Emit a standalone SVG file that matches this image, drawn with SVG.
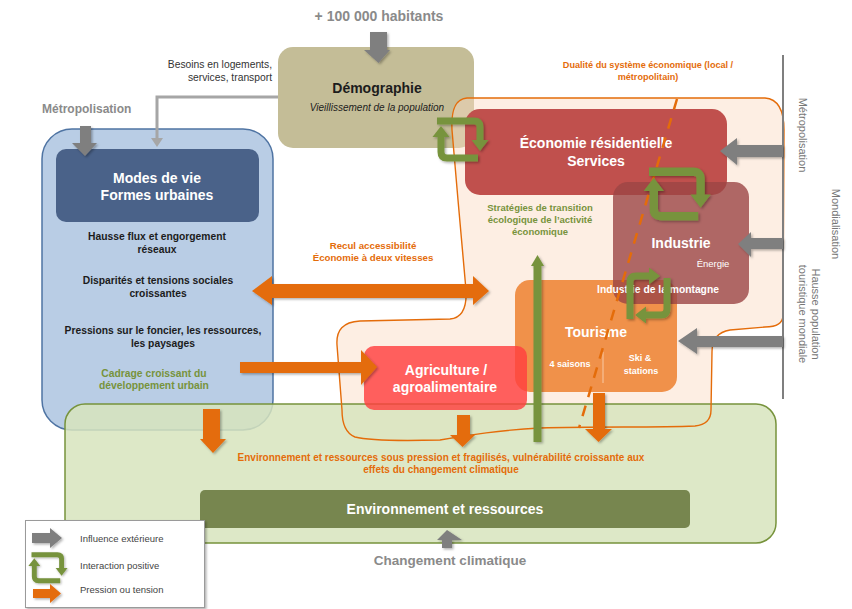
<svg xmlns="http://www.w3.org/2000/svg" width="852" height="609" viewBox="0 0 852 609">
  <defs>
    <filter id="shadow" x="-20%" y="-20%" width="150%" height="150%">
      <feDropShadow dx="1.5" dy="1.5" stdDeviation="1.2" flood-color="#000" flood-opacity="0.3"/>
    </filter>
    <!-- two curved arrows chasing each other: positive interaction -->
    <g id="loop">
      <path d="M5,4 H42 Q48,4 48,10 V24" fill="none" stroke="#77933c" stroke-width="7"/>
      <polygon points="39.5,23 56.5,23 48,34" fill="#77933c"/>
      <path d="M46,41 H15 Q9,41 9,35 V19" fill="none" stroke="#77933c" stroke-width="7"/>
      <polygon points="0.5,20 17.5,20 9,9" fill="#77933c"/>
    </g>
  </defs>
  <style>
    text { font-family: "Liberation Sans", Arial, sans-serif; }
    .b { font-weight: bold; }
    .c { text-anchor: middle; }
    .w { fill: #ffffff; }
    .dk { fill: #1c1c1c; }
    .or { fill: #e46c0a; }
    .gr { fill: #77933c; }
    .gy { fill: #8a8a8a; }
    .ext { fill: #7f7f7f; }
    .pres { fill: #e46c0a; }
    .side { fill: #777777; font-size: 11px; }
  </style>

  <rect width="852" height="609" fill="#ffffff"/>

  <!-- lifestyles / urban forms (container) -->
  <g id="modes-de-vie">
    <rect x="42" y="129" width="231" height="301" rx="30" fill="#b9cde5" stroke="#4f74a3" stroke-width="1.5"/>
    <rect x="56" y="149" width="203" height="73" rx="10" fill="#4a6289"/>
    <text class="b c w" x="157" y="183" font-size="14">Modes de vie</text>
    <text class="b c w" x="157" y="200" font-size="14">Formes urbaines</text>
    <text class="b c dk" x="157" y="240" font-size="10.3">Hausse flux et engorgement</text>
    <text class="b c dk" x="157" y="253" font-size="10.3">réseaux</text>
    <text class="b c dk" x="158" y="284" font-size="10.3">Disparités et tensions sociales</text>
    <text class="b c dk" x="158" y="297" font-size="10.3">croissantes</text>
    <text class="b c dk" x="163" y="334" font-size="10.3">Pressions sur le foncier, les ressources,</text>
    <text class="b c dk" x="163" y="347" font-size="10.3">les paysages</text>
    <text class="b c gr" x="154" y="377" font-size="10.3">Cadrage croissant du</text>
    <text class="b c gr" x="154" y="389" font-size="10.3">développement urbain</text>
  </g>

  <!-- demography -->
  <g id="demographie">
    <rect x="278" y="47" width="196" height="101" rx="15" fill="#c4bd97"/>
    <text class="b c dk" x="377" y="93" font-size="14">Démographie</text>
    <text class="c dk" x="377" y="111" font-size="10" font-style="italic">Vieillissement de la population</text>
  </g>

  <!-- economic area: fill first, outline drawn later on top -->
  <path id="zone-eco-fill" d="M467,98 L765,98 C778,99 784,110 784,130 L783,315 C783,324 775,327 765,327 L730,330 C718,332 712,340 712,352 L711,410 C711,420 705,425 695,426 C650,428 600,426 540,428 C500,430 470,435 440,440 C400,441 370,441 355,437 C345,433 342,422 342,410 L337,345 C336,330 343,322 360,321 L450,319 C462,318 467,308 466,290 L458,200 L452,130 C451,110 455,99 467,98 Z" fill="#fad9c0" fill-opacity="0.45"/>

  <!-- environment and resources -->
  <g id="environnement">
    <rect x="65" y="404" width="711" height="139" rx="20" fill="#d7e4bd" fill-opacity="0.85" stroke="#77933c" stroke-width="1.5"/>
    <rect x="200" y="490" width="490" height="38" rx="5" fill="#77864f"/>
    <text class="b c w" x="445" y="514" font-size="14">Environnement et ressources</text>
    <text class="b c or" x="441" y="461" font-size="10">Environnement et ressources sous pression et fragilisés, vulnérabilité croissante aux</text>
    <text class="b c or" x="441" y="473" font-size="10">effets du changement climatique</text>
  </g>

  <path id="zone-eco-outline" d="M467,98 L765,98 C778,99 784,110 784,130 L783,315 C783,324 775,327 765,327 L730,330 C718,332 712,340 712,352 L711,410 C711,420 705,425 695,426 C650,428 600,426 540,428 C500,430 470,435 440,440 C400,441 370,441 355,437 C345,433 342,422 342,410 L337,345 C336,330 343,322 360,321 L450,319 C462,318 467,308 466,290 L458,200 L452,130 C451,110 455,99 467,98 Z" fill="none" stroke="#e46c0a" stroke-width="1.4"/>

  <!-- residential economy -->
  <g id="economie-residentielle">
    <rect x="465" y="109" width="262" height="86" rx="15" fill="#c0504d"/>
    <text class="b c w" x="596" y="148" font-size="14">Économie résidentielle</text>
    <text class="b c w" x="596" y="166" font-size="14">Services</text>
  </g>

  <!-- tourism -->
  <g id="tourisme">
    <rect x="515" y="280" width="162" height="112" rx="15" fill="#f0914a"/>
    <text class="b c w" x="596" y="337" font-size="14">Tourisme</text>
    <text class="b c w" x="570" y="367" font-size="9">4 saisons</text>
    <line x1="603" y1="352" x2="603" y2="383" stroke="#f8c9a5" stroke-width="1"/>
    <text class="b c w" x="640" y="361" font-size="9">Ski &amp;</text>
    <text class="b c w" x="641" y="374" font-size="9">stations</text>
  </g>

  <!-- industry -->
  <g id="industrie">
    <rect x="613" y="182" width="136" height="122" rx="15" fill="#9b4545" fill-opacity="0.8"/>
    <text class="b c w" x="681" y="248" font-size="14">Industrie</text>
    <text class="c w" x="713" y="267" font-size="9.5">Énergie</text>
    <text class="b c w" x="658" y="293" font-size="10.3">Industrie de la montagne</text>
  </g>

  <!-- agriculture -->
  <g id="agriculture">
    <rect x="364" y="346" width="163" height="64" rx="10" fill="#ff4040" fill-opacity="0.82"/>
    <text class="b c w" x="446" y="375" font-size="14">Agriculture /</text>
    <text class="b c w" x="445" y="392" font-size="14">agroalimentaire</text>
  </g>

  <!-- free labels -->
  <g id="labels">
    <text class="b c gy" x="379" y="21" font-size="14">+ 100 000 habitants</text>
    <text class="b gy" x="42" y="113" font-size="12">Métropolisation</text>
    <text x="272" y="68" font-size="10.3" fill="#333" text-anchor="end">Besoins en logements,</text>
    <text x="272" y="81" font-size="10.3" fill="#333" text-anchor="end">services, transport</text>
    <text class="b c or" x="648" y="68" font-size="9.1">Dualité du système économique (local /</text>
    <text class="b c or" x="648" y="80" font-size="9.1">métropolitain)</text>
    <text class="b c or" x="373" y="249" font-size="9.7">Recul accessibilité</text>
    <text class="b c or" x="373" y="261" font-size="9.7">Économie à deux vitesses</text>
    <text class="b c gr" x="540" y="211" font-size="9.5">Stratégies de transition</text>
    <text class="b c gr" x="540" y="223" font-size="9.5">écologique de l’activité</text>
    <text class="b c gr" x="540" y="235" font-size="9.5">économique</text>
    <text class="b c gy" x="450" y="565" font-size="13.5">Changement climatique</text>
    <text class="side c" transform="translate(799,135) rotate(90)">Métropolisation</text>
    <text class="side c" transform="translate(832,224) rotate(90)">Mondialisation</text>
    <text class="side c" transform="translate(812,314) rotate(90)">Hausse population</text>
    <text class="side c" transform="translate(799,314) rotate(90)">touristique mondiale</text>
  </g>

  <!-- connectors -->
  <g id="connectors">
    <!-- external influences -->
    <line x1="783" y1="55" x2="783" y2="399" stroke="#7f7f7f" stroke-width="2"/>
    <g filter="url(#shadow)">
      <polygon class="ext" points="370,32 387,32 387,50 390,50 378.5,63 364,50 370,50"/>
      <polygon class="ext" points="80,126 91,126 91,143 97,143 85,156 72,143 80,143"/>
      <polygon class="ext" points="783,145 737,145 737,138 720,151 737,165 737,157 783,157"/>
      <polygon class="ext" points="783,238 751,238 751,232 738,244 751,257 751,249 783,249"/>
      <polygon class="ext" points="783,336 697,336 697,328 678,341 697,354 697,347 783,347"/>
      <polygon class="ext" points="442,548 442,540 437,540 447,530 462,540 452,540 452,548"/>
    </g>
    <polyline points="278,97 157,97 157,139" fill="none" stroke="#a6a6a6" stroke-width="3"/>
    <polygon points="151,138 163,138 157,147" fill="#a6a6a6"/>

    <!-- pressures / tensions -->
    <g filter="url(#shadow)">
      <polygon class="pres" points="252,291 272,276 272,284 473,284 473,276 489,291 473,305 473,298 272,298 272,305"/>
      <polygon class="pres" points="240,362 361,362 361,350 377,367 361,385 361,373 240,373"/>
      <polygon class="pres" points="203,409 220,409 220,439 226,439 213,453 200,439 203,439"/>
      <polygon class="pres" points="457,415 470,415 470,435 475,435 462.5,447 450,435 457,435"/>
      <polygon class="pres" points="593,393 605,393 605,429 612,429 598.5,442 585,429 593,429"/>
    </g>

    <!-- transition strategy -->
    <g filter="url(#shadow)">
      <rect x="533.5" y="264" width="8" height="178" fill="#77933c"/>
      <polygon points="531,266 544,266 537.5,255" fill="#77933c"/>
    </g>

    <!-- local / metropolitan split -->
    <line x1="677" y1="99" x2="579" y2="428" stroke="#e46c0a" stroke-width="2.5" stroke-dasharray="11,9"/>

    <!-- positive interactions -->
    <g filter="url(#shadow)">
      <use href="#loop" transform="translate(432,117)"/>
      <use href="#loop" transform="translate(643,167) scale(1.2)"/>
      <use href="#loop" transform="translate(626,324) rotate(-90)"/>
    </g>
  </g>

  <!-- legend -->
  <g id="legende">
    <rect x="25.5" y="520.5" width="179" height="87" fill="#ffffff" stroke="#9a9a9a" stroke-width="1" filter="url(#shadow)"/>
    <polygon class="ext" points="32,533 50,533 50,528 62,538 50,548 50,543 32,543" filter="url(#shadow)"/>
    <use href="#loop" transform="translate(28,552) scale(0.7)" filter="url(#shadow)"/>
    <polygon class="pres" points="33,589 50,589 50,584 61,593.5 50,603 50,598 33,598" filter="url(#shadow)"/>
    <text x="80" y="542" font-size="9.5" fill="#444">Influence extérieure</text>
    <text x="80" y="569" font-size="9.5" fill="#444">Interaction positive</text>
    <text x="80" y="593" font-size="9.5" fill="#444">Pression ou tension</text>
  </g>
</svg>
